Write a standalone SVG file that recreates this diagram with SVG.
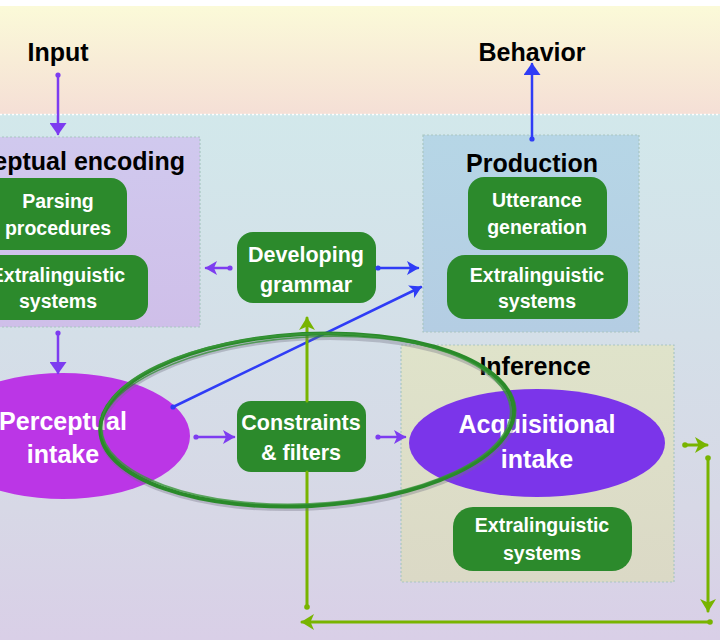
<svg xmlns="http://www.w3.org/2000/svg" width="720" height="640" viewBox="0 0 720 640">
<style>
.title{font-family:"Liberation Sans",Arial,sans-serif;font-weight:bold;font-size:25px;fill:#000}
.nt{font-family:"Liberation Sans",Arial,sans-serif;font-weight:bold;font-size:19.5px;fill:#fff;text-anchor:middle}
.nb{font-family:"Liberation Sans",Arial,sans-serif;font-weight:bold;font-size:21.5px;fill:#fff;text-anchor:middle}
.et{font-family:"Liberation Sans",Arial,sans-serif;font-weight:bold;font-size:25px;fill:#fff;text-anchor:middle}
.box{fill:#2c8a2c}
.grp{stroke:#a9c6c2;stroke-width:1.2;stroke-dasharray:2 2}
.cp{fill:none;stroke:#7d3cf0;stroke-width:2.5;stroke-linecap:round}
.cb{fill:none;stroke:#2f3cf6;stroke-width:2.5;stroke-linecap:round}
.cg{fill:none;stroke:#78b400;stroke-width:3;stroke-linecap:round}
</style>
<defs>
<linearGradient id="topBg" x1="0" y1="0" x2="0" y2="1">
<stop offset="0" stop-color="#fbfad8"/><stop offset="1" stop-color="#f5dfd6"/>
</linearGradient>
<linearGradient id="lowBg" x1="0" y1="0" x2="0" y2="1">
<stop offset="0" stop-color="#d2e8eb"/><stop offset="0.42" stop-color="#d4dfe8"/><stop offset="0.75" stop-color="#d7d8e6"/><stop offset="1" stop-color="#d9cfe7"/>
</linearGradient>
<linearGradient id="pencG" x1="0" y1="0" x2="0" y2="1">
<stop offset="0" stop-color="#d0c9ee"/><stop offset="1" stop-color="#cfbfe9"/>
</linearGradient>
<linearGradient id="prodG" x1="0" y1="0" x2="0" y2="1">
<stop offset="0" stop-color="#b6d6e6"/><stop offset="1" stop-color="#b4cde3"/>
</linearGradient>
<linearGradient id="infG" x1="0" y1="0" x2="0" y2="1">
<stop offset="0" stop-color="#dfe3ca"/><stop offset="1" stop-color="#dbd9c6"/>
</linearGradient>
<marker id="triP" viewBox="0 0 12 17" refX="11" refY="8.5" markerWidth="12" markerHeight="17" orient="auto" markerUnits="userSpaceOnUse"><path d="M0,0 L12,8.5 L0,17 z" fill="#7d3cf0"/></marker>
<marker id="triB" viewBox="0 0 12 17" refX="11" refY="8.5" markerWidth="12" markerHeight="17" orient="auto" markerUnits="userSpaceOnUse"><path d="M0,0 L12,8.5 L0,17 z" fill="#2f3cf6"/></marker>
<marker id="barbP" viewBox="0 0 12 14" refX="11" refY="7" markerWidth="12" markerHeight="14" orient="auto" markerUnits="userSpaceOnUse"><path d="M0,0 L12,7 L0,14 L3,7 z" fill="#7d3cf0"/></marker>
<marker id="barbB" viewBox="0 0 12 14" refX="11" refY="7" markerWidth="12" markerHeight="14" orient="auto" markerUnits="userSpaceOnUse"><path d="M0,0 L12,7 L0,14 L3,7 z" fill="#2f3cf6"/></marker>
<marker id="barbG" viewBox="0 0 13 16" refX="12" refY="8" markerWidth="13" markerHeight="16" orient="auto" markerUnits="userSpaceOnUse"><path d="M0,0 L13,8 L0,16 L3.5,8 z" fill="#78b400"/></marker>
<marker id="dotP" viewBox="0 0 6 6" refX="3" refY="3" markerWidth="6" markerHeight="6" markerUnits="userSpaceOnUse"><circle cx="3" cy="3" r="2.6" fill="#7d3cf0"/></marker>
<marker id="dotB" viewBox="0 0 6 6" refX="3" refY="3" markerWidth="6" markerHeight="6" markerUnits="userSpaceOnUse"><circle cx="3" cy="3" r="2.6" fill="#2f3cf6"/></marker>
<marker id="dotG" viewBox="0 0 6 6" refX="3" refY="3" markerWidth="6" markerHeight="6" markerUnits="userSpaceOnUse"><circle cx="3" cy="3" r="2.8" fill="#78b400"/></marker>
</defs>

<!-- background -->
<rect x="0" y="0" width="720" height="640" fill="#fff"/>
<rect x="0" y="6" width="720" height="108" fill="url(#topBg)"/>
<rect x="0" y="114" width="720" height="526" fill="url(#lowBg)"/>
<line x1="0" y1="114.5" x2="720" y2="114.5" stroke="#fff" stroke-width="1.5" stroke-dasharray="2 2"/>

<!-- group regions -->
<g id="perceptual-encoding">
<rect class="grp" x="-10" y="137" width="210" height="190" fill="url(#pencG)"/>
<text class="title" x="185" y="170" text-anchor="end">Perceptual encoding</text>
</g>
<g id="production">
<rect class="grp" x="423" y="135" width="216" height="197" fill="url(#prodG)"/>
<text class="title" x="532" y="172" text-anchor="middle">Production</text>
</g>
<g id="inference">
<rect class="grp" x="401" y="345" width="273" height="237" fill="url(#infG)"/>
<text class="title" x="535" y="375" text-anchor="middle">Inference</text>
</g>
<g id="input"><text class="title" x="58" y="61" text-anchor="middle">Input</text></g>
<g id="behavior"><text class="title" x="532" y="61" text-anchor="middle">Behavior</text></g>

<!-- nodes -->
<g id="parsing-procedures">
<rect class="box" x="-20" y="178" width="147" height="72" rx="16"/>
<text class="nt" x="58" y="208">Parsing</text>
<text class="nt" x="58" y="235">procedures</text>
</g>
<g id="extralinguistic-encoding">
<rect class="box" x="-20" y="255" width="168" height="65" rx="16"/>
<text class="nt" x="58" y="282">Extralinguistic</text>
<text class="nt" x="58" y="308">systems</text>
</g>
<g id="developing-grammar">
<rect class="box" x="237" y="232" width="139" height="71" rx="16"/>
<text class="nb" x="306" y="262">Developing</text>
<text class="nb" x="306" y="292">grammar</text>
</g>
<g id="utterance-generation">
<rect class="box" x="468" y="177" width="139" height="73" rx="16"/>
<text class="nt" x="537" y="207">Utterance</text>
<text class="nt" x="537" y="234">generation</text>
</g>
<g id="extralinguistic-production">
<rect class="box" x="447" y="255" width="181" height="64" rx="18"/>
<text class="nt" x="537" y="282">Extralinguistic</text>
<text class="nt" x="537" y="308">systems</text>
</g>
<g id="perceptual-intake">
<ellipse cx="63" cy="436" rx="127" ry="63" fill="#bb36e6"/>
<text class="et" x="63" y="430">Perceptual</text>
<text class="et" x="63" y="463">intake</text>
</g>
<g id="constraints-filters">
<rect class="box" x="237" y="401" width="129" height="71" rx="14"/>
<text class="nb" x="301" y="430">Constraints</text>
<text class="nb" x="301" y="460">&amp; filters</text>
</g>
<g id="acquisitional-intake">
<ellipse cx="537" cy="443" rx="128" ry="54" fill="#7b35ea"/>
<text class="et" x="537" y="433">Acquisitional</text>
<text class="et" x="537" y="468">intake</text>
</g>
<g id="extralinguistic-inference">
<rect class="box" x="453" y="507" width="179" height="64" rx="20"/>
<text class="nt" x="542" y="532">Extralinguistic</text>
<text class="nt" x="542" y="560">systems</text>
</g>

<!-- connectors -->
<g id="connectors">
<path class="cp" d="M58,75 V134" marker-start="url(#dotP)" marker-end="url(#triP)"/>
<path class="cb" d="M532,139 V64" marker-start="url(#dotB)" marker-end="url(#triB)"/>
<path class="cp" d="M230,268 H206" marker-start="url(#dotP)" marker-end="url(#barbP)"/>
<path class="cb" d="M378,268 H418" marker-start="url(#dotB)" marker-end="url(#barbB)"/>
<path class="cp" d="M58,333 V373" marker-start="url(#dotP)" marker-end="url(#triP)"/>
<path class="cb" d="M173,407 L421,287" marker-start="url(#dotB)" marker-end="url(#barbB)"/>
<path class="cp" d="M196,437 H234" marker-start="url(#dotP)" marker-end="url(#barbP)"/>
<path class="cp" d="M378,437 H405" marker-start="url(#dotP)" marker-end="url(#barbP)"/>
<path class="cg" d="M685,445 H707" marker-start="url(#dotG)" marker-end="url(#barbG)"/>
<path class="cg" d="M708,458 V611" marker-start="url(#dotG)" marker-end="url(#barbG)"/>
<path class="cg" d="M710,622 H302" marker-start="url(#dotG)" marker-end="url(#barbG)"/>
<path class="cg" d="M307,607 V472 M307,401 V318" marker-start="url(#dotG)" marker-end="url(#barbG)"/>
</g>

<!-- hand-drawn highlight ellipse -->
<g id="highlight" fill="none">
<ellipse cx="308" cy="423" rx="207" ry="85" transform="rotate(-3 308 423)" stroke="#6f6f80" stroke-opacity="0.35" stroke-width="5"/>
<ellipse cx="307" cy="420" rx="207" ry="86" transform="rotate(-3 307 420)" stroke="#2a8a2a" stroke-width="4"/>
<ellipse cx="306" cy="419" rx="205" ry="85" transform="rotate(-2.5 306 419)" stroke="#3a963a" stroke-width="2" stroke-opacity="0.8"/>
<ellipse cx="308" cy="421" rx="208" ry="84" transform="rotate(-3.5 308 421)" stroke="#2a8a2a" stroke-width="1.5" stroke-opacity="0.7"/>
</g>
</svg>
